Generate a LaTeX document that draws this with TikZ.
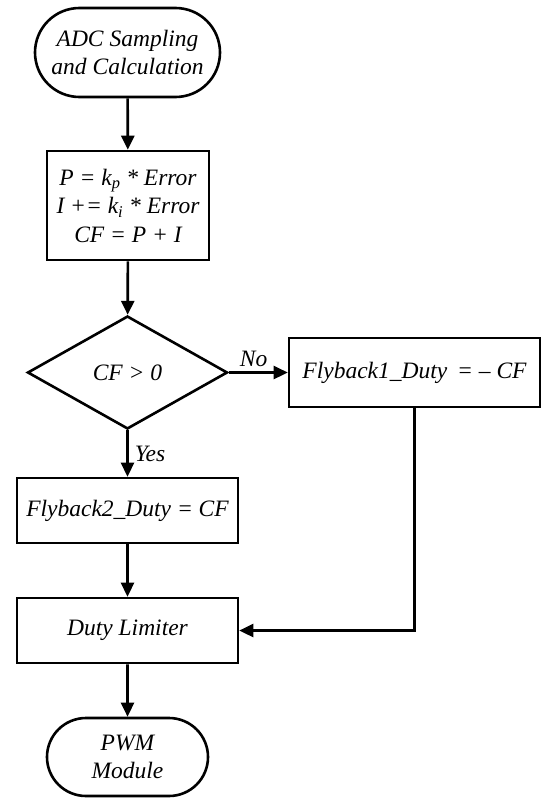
\documentclass[tikz,border=0pt]{standalone}
\usepackage{fontspec}
\setmainfont{Liberation Serif}
\usetikzlibrary{shapes.geometric,shapes.misc,arrows.meta}
\tikzset{
  base/.style={draw, line width=2.6pt, inner sep=0pt, align=center,
    font=\fontsize{23.5}{28.5}\selectfont\itshape},
  term/.style={base, rounded rectangle},
  procbox/.style={base, rectangle},
  decision/.style={base, diamond},
  flow/.style={line width=2.6pt, -{Triangle[length=14pt,width=13pt]}},
  lbl/.style={font=\fontsize{23.5}{28}\selectfont\itshape, inner sep=0pt}
}
\begin{document}
\begin{tikzpicture}[x=1pt,y=-1pt]
\useasboundingbox (0,0) rectangle (550,806);
\node[term, minimum width=185pt, minimum height=89pt] (start) at (127.5,52.5)
  {ADC Sampling\\and Calculation};
\node[procbox, minimum width=162pt, minimum height=109pt] (calc) at (128,205.5)
  {\textit{P} = \textit{k}\textsubscript{\textit{p}} * \textit{Error}\\
   \textit{I} += \textit{k}\textsubscript{\textit{i}} * \textit{Error}\\
   \textit{CF} = \textit{P} + \textit{I}};
\node[decision, minimum width=200pt, minimum height=113pt] (dec) at (127.5,372.5)
  {\textit{CF} > 0};
\node[procbox, minimum width=251pt, minimum height=69pt] (fb1) at (414.5,372.5)
  {Flyback1\_Duty\, = -- CF};
\node[procbox, minimum width=221pt, minimum height=65pt] (fb2) at (127.5,510.5)
  {Flyback2\_Duty = CF};
\node[procbox, minimum width=221pt, minimum height=65pt] (lim) at (127.5,630.5)
  {Duty Limiter};
\node[term, minimum width=161pt, minimum height=78pt] (pwm) at (127.5,757)
  {PWM\\Module};
\draw[flow] (start) -- (calc);
\draw[flow] (calc) -- (dec);
\draw[flow] (dec) -- node[lbl, above=4pt, pos=0.42] (no) {No} (fb1);
\draw[flow] (dec) -- node[lbl, right=6pt, pos=0.5] (yes) {Yes} (fb2);
\draw[flow] (fb2) -- (lim);
\draw[flow] (fb1.south) |- (lim.east);
\draw[flow] (lim) -- (pwm);
\end{tikzpicture}
\end{document}
